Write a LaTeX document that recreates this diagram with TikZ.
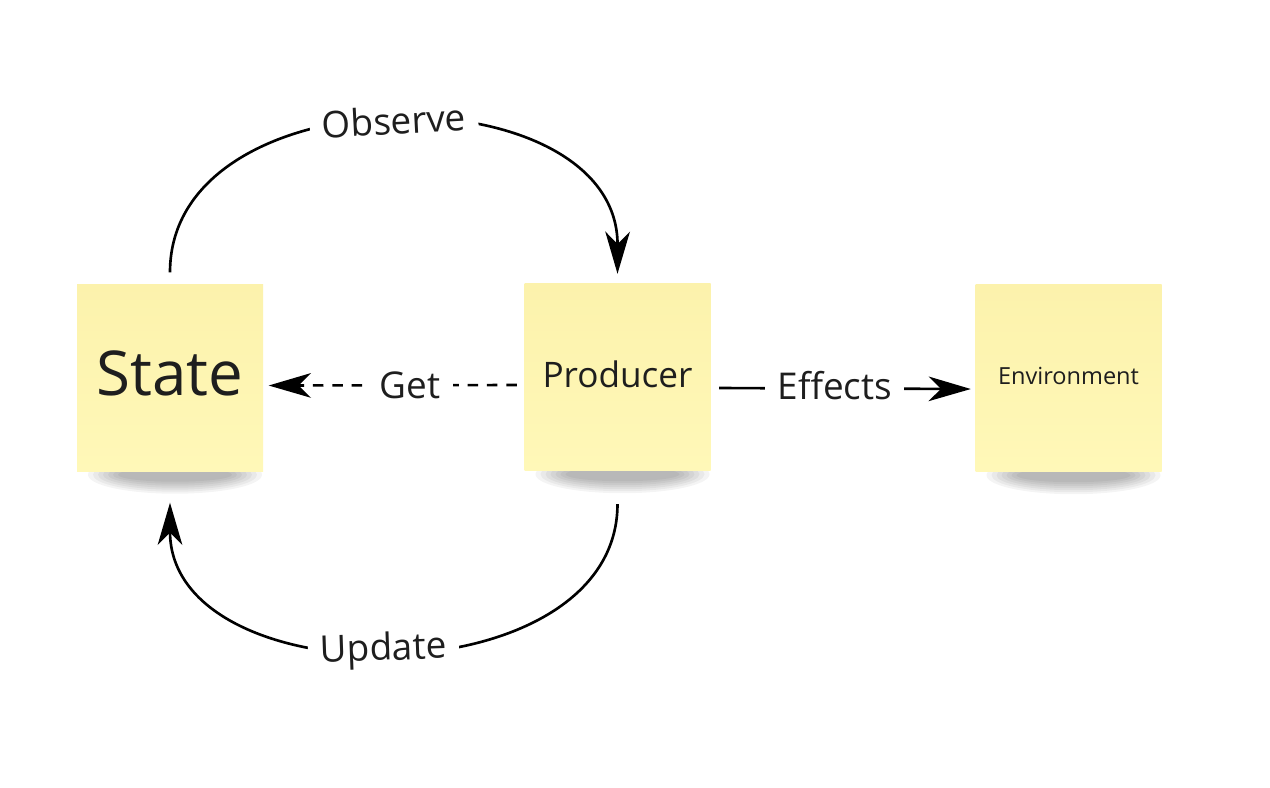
\documentclass[tikz,border=0pt]{standalone}
\usepackage{fontspec}
\setmainfont{Open Sans}
\usetikzlibrary{arrows.meta,calc,backgrounds}
\definecolor{notepaper}{RGB}{255,248,184}
\definecolor{notetop}{RGB}{252,242,172}
\definecolor{inkdark}{RGB}{30,30,30}
\tikzset{
  note/.style={minimum width=1.86cm, minimum height=1.87cm, inner sep=0pt,
    top color=notetop, bottom color=notepaper, text=inkdark},
  flow/.style={line width=0.75pt, -{Stealth[length=12pt,width=7pt,inset=3.5pt]}},
  tag/.style={fill=white, inner xsep=3.5pt, inner ysep=1pt, text=inkdark,
    font=\fontsize{10.5}{12}\selectfont},
}

\begin{document}
\begin{tikzpicture}
  \useasboundingbox (0,0) rectangle (12.7,-7.87);
  % sticky notes
  \node[note, font=\fontsize{17.6}{20}\selectfont] (state) at (1.70,-3.775) {\raisebox{0.08cm}{State}};
  \node[note, font=\fontsize{10}{12}\selectfont] (producer) at (6.175,-3.77) {\raisebox{0.06cm}{Producer}};
  \node[note, font=\fontsize{6.7}{8}\selectfont] (environment) at (10.685,-3.78) {\raisebox{0.05cm}{Environment}};
  % loop over the state
  \draw[flow] ([yshift=0.11cm]state.north) .. controls (1.70,-0.70) and (6.18,-0.70)
    .. node[tag, rotate=3] {Observe} ([yshift=0.09cm]producer.north);
  \draw[flow] ([yshift=-0.33cm]producer.south) .. controls (6.17,-7.00) and (1.70,-7.00)
    .. node[tag, rotate=2, pos=0.515] {Update} ([yshift=-0.31cm]state.south);
  % side arrows
  \draw[flow, dash pattern=on 3pt off 2.5pt] ([shift={(-0.07,-0.08)}]producer.west)
    -- node[tag, pos=0.43] {Get} ([shift={(0.05,-0.08)}]state.east);
  \draw[flow] ([shift={(0.08,-0.11)}]producer.east)
    -- node[tag, pos=0.46, yshift=0.03cm] {Effects} ([shift={(-0.04,-0.11)}]environment.west);
  % paper and shadows
  \begin{scope}[on background layer]
    \fill[white] (0,0) rectangle (12.7,-7.87);
    \foreach \sticky in {state,producer,environment}
      \foreach \i in {1,...,7}
        \fill[black, opacity=0.045] ($(\sticky.south)+(0.05,-0.03)$)
          ellipse ({0.92-0.05*\i} and {0.21-0.02*\i});
  \end{scope}
\end{tikzpicture}
\end{document}
